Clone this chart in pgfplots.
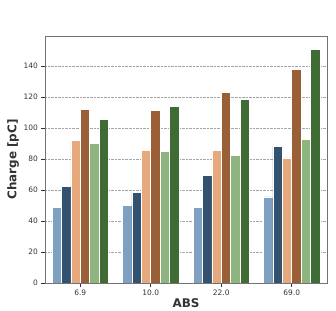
\documentclass[border=0pt]{standalone}
\usepackage{pgfplots}
\pgfplotsset{compat=1.18}
\usepackage{fontspec}
\setmainfont{DejaVu Sans}
\definecolor{c1}{HTML}{7FA0C1}
\definecolor{c2}{HTML}{32526F}
\definecolor{c3}{HTML}{E5A97D}
\definecolor{c4}{HTML}{9A5F36}
\definecolor{c5}{HTML}{8EB57F}
\definecolor{c6}{HTML}{3F6C35}
\definecolor{txt}{HTML}{333333}
\begin{document}
\begin{tikzpicture}
\begin{axis}[
  at={(45bp,28bp)}, anchor=south west,
  scale only axis, width=282bp, height=247bp,
  xmin=-0.5, xmax=3.5, ymin=0, ymax=159.4,
  ybar=0pt, bar width=0.1333,
  xtick={0,1,2,3}, xticklabels={6.9,10.0,22.0,69.0},
  ytick={0,20,40,60,80,100,120,140},
  ymajorgrids, grid style={densely dotted, gray!70, line width=0.5pt},
  axis line style={gray!90!black, line width=0.8pt},
  tick style={txt, line width=0.6pt},
  major tick length=3.5bp,
  xtick pos=bottom, ytick pos=left,
  tick align=outside,
  ticklabel style={font=\fontsize{7.5}{8.5}\selectfont, text=txt},
  /pgf/number format/assume math mode=true,
  xlabel={\textbf{ABS}}, ylabel={\textbf{Charge [pC]}},
  label style={font=\fontsize{12}{14}\selectfont, text=txt},
  xlabel style={yshift=4pt},
  ylabel style={yshift=-2pt},
  every axis plot/.append style={draw=white, line width=0.6pt},
]
\addplot[fill=c1] coordinates {(0,48.8) (1,50.1) (2,48.8) (3,55.5)};
\addplot[fill=c2] coordinates {(0,62.2) (1,58.5) (2,69.5) (3,88.2)};
\addplot[fill=c3] coordinates {(0,91.9) (1,85.4) (2,85.8) (3,80.7)};
\addplot[fill=c4] coordinates {(0,111.9) (1,111.4) (2,123.0) (3,137.9)};
\addplot[fill=c5] coordinates {(0,90.1) (1,84.8) (2,82.6) (3,92.7)};
\addplot[fill=c6] coordinates {(0,105.4) (1,114.0) (2,118.5) (3,151.0)};
\end{axis}
\path[use as bounding box] (0,0) rectangle (336bp,311bp);
\end{tikzpicture}
\end{document}
